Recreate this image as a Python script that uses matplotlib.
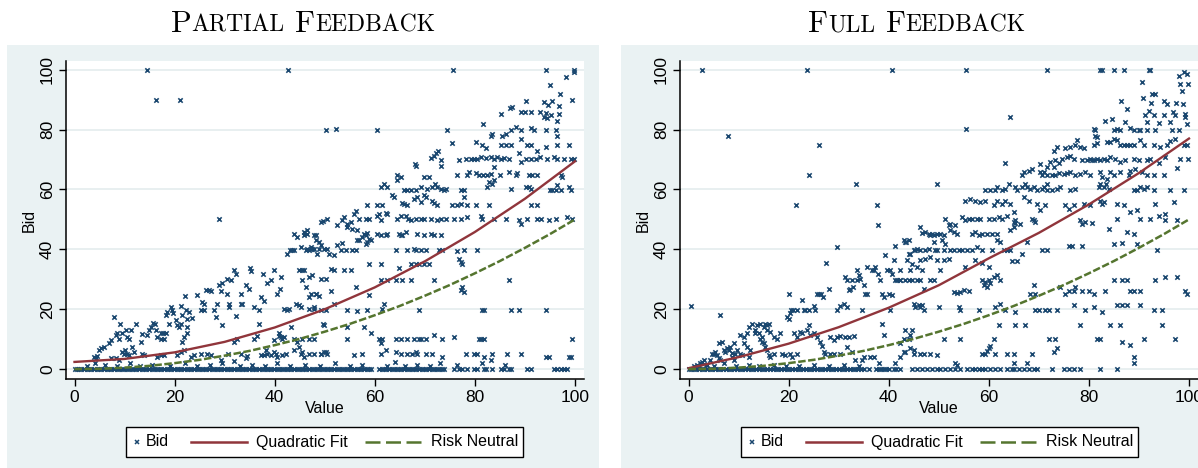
import numpy as np
import matplotlib
matplotlib.use("Agg")
import matplotlib.pyplot as plt
from matplotlib.patches import Rectangle
from matplotlib.lines import Line2D

# ---- data ----------------------------------------------------------------
# partial feedback: (value, bid) for the scattered bids
partial_pts = [
    (14.4, 100), (16.2, 90), (21, 90), (42.6, 100), (50.3, 80), (28.9, 50),
    (7.9, 17.4), (9, 15), (12.3, 15),
    (5.2, 6.9), (4.9, 6.3), (5.9, 7.4), (3.9, 4.1), (4.2, 3.6), (4.5, 4.3),
    (6.9, 8.8), (7.2, 9.7), (8.2, 11.3), (8.5, 11.9), (8.9, 10.2), (9.5, 12.1),
    (10.5, 10.8), (10.9, 10.2), (10.2, 13), (11.2, 13), (11.5, 7.4),
    (10, 6.3), (10.4, 5.2), (10.9, 4.7), (11.9, 5.8), (13.2, 9.1), (13.5, 11.7),
    (14.5, 11.3), (14.9, 13.2), (15.2, 14.1), (15.7, 15.4), (16, 15),
    (16.2, 13), (16.5, 10.8), (17.2, 9.9), (17.9, 9.9), (17.2, 12.1), (17.7, 11.9), (18.2, 11.9),
    (18.2, 18), (18.5, 19.1), (18.9, 15.2), (19.2, 20.8), (19.5, 19.7), (19.7, 18.6),
    (20.2, 16.3), (20.5, 14.7), (20.9, 13.9), (21.2, 15.2),
    (21.2, 21), (21.5, 18), (22.2, 19.7), (22, 24.3),
    (21.5, 9.1), (21.9, 10.8), (22.5, 11.9), (22.5, 16.9), (23.5, 17.1), (22.9, 19.1), (22.5, 13.9),
    (25.2, 19.9), (25.9, 19.9), (24.5, 24.7), (25.5, 22.4), (25.9, 21.9),
    (26.2, 26.3), (26.9, 26.3), (27.2, 26.1), (27.9, 19.9), (28.2, 17.4), (28.5, 21.9),
    (28.9, 28.2), (29.2, 26.1), (29.5, 28.8), (29.5, 14.9),
    (30.5, 25.2), (30.9, 20.8), (30.9, 21.9), (30.5, 30.2), (31.2, 29.9), (31.9, 33), (32.2, 31.9),
    (32.2, 17.6), (33.2, 25.2), (33.5, 21.9), (33.2, 21.9),
    (34.2, 28), (34.9, 26.9), (35, 33.8), (35.3, 32.7), (35.9, 20.8), (36.9, 19.9), (36.9, 15),
    (37.2, 24.1), (37.9, 22.8), (37.7, 31.9), (38.5, 28.6), (39.2, 29.7), (39.9, 33),
    (40.5, 25.2), (41.1, 26.9), (41.2, 30.8), (41.9, 20.2), (42.5, 19.9), (42.9, 20.2),
    (42.5, 38.6), (43.1, 39.9), (43.5, 39.9), (43.9, 39.9), (43.9, 45.2), (44.4, 44.1),
    (44.2, 21.9), (44.9, 21.3), (44.9, 33), (45.5, 29.7), (45.9, 33),
    (46.2, 39.7), (46.9, 39.7), (47.2, 40.8), (47.5, 40.2), (47.9, 40.2),
    (45.9, 45.8), (46.5, 46.3), (48.2, 44.7), (49.2, 49.1),
    (47.2, 25), (48.2, 25), (47.9, 20.8), (48.5, 38.6), (49.7, 15),
    (43.2, 14.1), (43.9, 10.2), (44.5, 9.1), (44.9, 7.4),
    (40.9, 11.9), (41.2, 10.8), (41.5, 10.2), (41.9, 10.8),
    (40.5, 4.1), (41.5, 4.7), (42.2, 5.2), (43.9, 6.3), (45.5, 5.8), (45.9, 4.1),
    (47.9, 5.2), (49.2, 5.2), (50.2, 5.8),
    (38.5, 5.2), (39.2, 4.7), (39.9, 5.8), (40.2, 5.2), (37.2, 4.7), (37.9, 4.7), (38.2, 6.3),
    (34.2, 3.6), (34.5, 4.3), (31.9, 2.8), (30.7, 5.2), (29.2, 3), (33.2, 5.2),
    (25.2, 5.2), (26.5, 5.2), (27.2, 4.7), (23.2, 4.1), (23.9, 4.7),
    (21.9, 6.3), (21.2, 5.8), (20.5, 4.7), (16.5, 4.1), (17.2, 4.7), (17.9, 4.7),
    (13.5, 5.2), (13.9, 4.7), (31.9, 9.1), (32.5, 10.2), (35.9, 10.2), (36.5, 11),
    (39.9, 9.7), (40.9, 11), (7.2, 3.6), (8.2, 3.6), (8.9, 3), (9.5, 5.8), (9.9, 5.2),
    # right half
    (75.7, 100), (94.3, 100), (99.9, 100), (99.9, 99.1), (98.3, 97.7), (95, 94.9),
    (97.1, 91.9), (99.5, 89.9), (90.3, 89.7), (93.9, 89.1), (95.4, 89.7), (96.9, 88), (94.7, 88.2),
    (87, 87.1), (87.5, 87.4), (85.2, 85.2), (89.2, 85.8), (90, 85.8), (91.2, 85.8),
    (93.1, 86), (94.3, 85.4), (95.2, 84.7), (96.9, 85.2), (93.9, 84.3), (94.5, 83.8), (96.5, 82.7),
    (81.7, 81.7), (74.5, 79.9), (52.2, 80.2), (60.5, 79.9),
    (87.2, 79.9), (88.2, 80.8), (89.2, 79.9), (91.2, 80.6), (91.9, 79.9), (94.2, 79.9), (96.2, 79.9),
    (96.5, 78), (83.2, 78), (83.5, 78.6), (85.5, 77.7), (86.2, 78.6),
    (80.2, 75.8), (75.5, 75.4), (81.5, 75), (82.2, 73.9), (85.2, 75), (86.2, 75), (87.2, 75),
    (89.2, 76.9), (90.5, 75), (91.2, 75), (92.5, 73), (94.2, 74.1), (96.5, 75), (98.9, 75),
    (72.7, 73), (72.2, 72.3), (71.9, 71.3), (71.2, 70.6), (73.2, 69.9),
    (76.9, 69.9), (78.2, 70.2), (79.2, 70.2), (79.9, 70.2), (80.5, 70.2),
    (81.2, 71), (82.2, 70.6), (83.2, 70.8), (83.9, 70.2), (84.5, 70.8), (85.2, 70.2), (85.9, 70.6), (86.9, 70.2),
    (88.9, 72.1), (89.2, 69.1), (90.2, 70.2), (91.2, 70.2), (92.2, 70.2), (93.1, 70.8), (94.5, 70.2),
    (95.9, 70.8), (96.5, 70.2), (97.9, 70.2), (99.2, 70.2), (99.9, 70.2),
    (68.2, 68), (68, 68.6), (73.2, 67.7), (83.9, 67.4),
    (76.5, 64.9), (78.5, 64.9), (78.9, 65.8), (80.2, 65.4), (80.9, 64.7), (81.7, 64.9), (82.5, 64.7), (83.2, 65.2),
    (85.1, 64.9), (86.9, 65.8), (88.2, 64.9), (88.5, 65.4), (90.9, 64.9), (91.5, 64.9), (92.5, 64.9),
    (97.2, 64.9), (97.5, 64.1), (65.2, 64.1), (64.5, 63), (64.4, 64.7), (70.9, 64.1), (69.9, 64.1),
    (72, 61.9), (72.5, 60.8), (73.2, 60.2), (73.9, 59.7), (74.2, 60.2),
    (61.9, 61.9), (62.5, 60.8), (61.2, 60.8), (65.9, 59.7), (66.5, 59.7), (67.2, 59.9), (68.2, 59.9), (69.2, 60.8),
    (70.5, 60.2), (71.5, 60.8), (77.2, 59.9), (77.9, 59.9), (77.9, 57.4),
    (82.5, 60.8), (83.5, 61.9), (83.9, 63), (82.9, 62.4),
    (87.2, 60.2), (90.2, 60.8), (91.2, 60.2), (90.9, 60.8),
    (95, 59.9), (95.5, 59.9), (96.5, 61.6), (96.2, 59.9), (97.2, 59.9), (98.9, 60.8), (99.2, 59.9),
    (58.5, 54.9), (60.5, 54.9), (61.5, 54.9), (63.9, 57.4), (63.5, 58),
    (65.5, 55.4), (65.9, 55.2), (66.5, 54.7), (67.9, 56.9), (68.5, 57.4), (69.2, 55.8),
    (69.9, 58), (70.2, 57.4), (71.5, 56.3), (71.9, 55.4), (72.5, 54.9),
    (75.5, 54.9), (76.5, 54.9), (77.2, 55.2), (78.5, 54.9), (80.2, 54.9), (82.9, 54.9),
    (91.2, 54.9), (92.5, 54.9),
    (55.9, 51.9), (56.2, 52.8), (53.9, 50.8), (54.5, 48.6), (55.2, 49.1),
    (56.9, 50.2), (58.2, 50), (58.9, 50), (60.5, 51.3), (60.9, 51.9), (61.2, 49.7), (62.2, 52.2), (62.5, 51.9),
    (64.5, 50.2), (65.2, 51.3), (66.2, 51.3), (66.7, 50), (67.2, 49.7),
    (68.2, 50.2), (69.2, 50), (69.9, 50), (71.2, 50), (72.5, 49.7), (73.2, 50), (74.2, 50),
    (75.9, 50), (77.2, 50), (78.5, 50.8), (81.2, 51.3), (81.5, 50), (83.9, 50), (86.2, 50),
    (88.9, 49.7), (89.2, 48.6), (90.5, 50), (92.5, 50), (93.2, 50), (94.9, 49.7), (96.2, 50), (98.5, 50.8), (99.5, 50),
    (49.7, 49.3), (50.5, 50.2), (52.5, 48), (53.5, 49.7), (54.5, 47.4),
    (55.5, 46.9), (56.5, 46.3), (57.5, 44.1), (57.9, 45.2), (58.2, 44.7),
    (58.5, 45.4), (58.9, 43.6), (59.2, 43), (60.5, 45.2), (61.2, 44.7), (62.2, 44.9), (62.5, 45.2),
    (64.9, 45.2), (65.2, 44.7), (65.5, 44.7), (66.2, 45.8), (68.5, 45.2), (69.9, 44.9),
    (71.2, 45.2), (71.9, 44.9), (73.2, 44.9), (56.5, 43.2), (56.9, 43),
    (46.5, 45.2), (45.9, 44.7), (47.9, 44.7), (48.2, 43), (48.9, 42.4), (49.2, 41.3), (49.9, 40.2), (50.5, 40.2),
    (45.2, 40.8), (46.5, 40.2), (47.2, 40.2), (48.9, 40.2),
    (52.5, 41.3), (53.5, 42.1), (53.2, 39.7), (54.2, 39.9), (55.5, 39.7), (56.2, 39.7),
    (51.9, 38), (50.9, 38.6), (58.2, 41.9), (58.5, 42.4),
    (64.2, 39.9), (66.5, 39.9), (67.9, 40.2), (68.2, 39.9), (69.2, 39.9), (70.2, 39.9),
    (72.9, 39.9), (73.5, 39.9), (76.5, 39.3), (76.9, 36.9), (77.9, 39.9), (77.2, 35.8), (77.5, 35.2), (80.5, 39.9),
    (45.5, 33), (46.9, 30.8), (47.5, 31.3), (49.2, 30.2), (50.2, 30.2), (51.2, 33.6), (51.9, 33),
    (53.9, 33), (55.2, 33), (58.9, 35), (61.2, 35), (64.9, 33.8),
    (67.2, 35), (68.2, 35), (68.9, 35), (69.9, 35), (70.9, 35),
    (61.2, 29.9), (62.5, 29.9), (64.2, 29.9), (65.5, 29.9), (67.2, 29.9), (71.9, 29.9), (86.9, 29.9),
    (77.5, 27.4), (77.9, 25.8), (77.2, 26.3), (46.2, 27.4), (46.9, 24.1), (48.2, 25), (48.9, 24.3),
    (51.2, 26.1), (56.2, 27.4), (58.9, 24.7),
    (45.2, 20.8), (46.9, 20.2), (47.9, 20.2), (49.2, 19.9), (50.2, 19.7), (51.9, 21.9),
    (54.5, 19.7), (56.5, 19.4), (58.5, 19.7), (61.5, 20.2), (61.9, 21.9), (68.9, 19.9),
    (81.5, 19.9), (81.9, 19.9), (87.2, 19.9), (88.9, 19.9), (94.2, 19.9),
    (49.9, 14.7), (54.5, 14.1), (57.9, 14.1), (59.2, 11.9),
    (45.5, 10.2), (46.9, 9.9), (47.9, 10.2), (54.5, 10),
    (60.9, 10), (61.5, 10), (61.2, 8.6), (64.2, 10), (65.2, 10), (66.5, 10), (67.9, 10), (68.9, 10), (69.2, 10), (70.2, 10),
    (71.9, 11.3), (73.5, 10), (75.9, 10.8), (80.9, 10), (81.2, 10), (81.9, 10), (99.5, 10),
    (45.2, 5), (46.9, 5), (49.2, 5), (49.9, 5.8), (50.5, 5),
    (55.9, 4.7), (57.5, 5), (61.2, 5), (62.2, 6.3), (64.2, 5.8), (65.2, 5), (66.5, 5), (67.5, 5),
    (68.2, 5.8), (68.5, 5), (70.2, 5), (71.5, 5), (73.5, 4.1),
    (78.2, 5), (79.9, 5), (80.5, 5), (81.9, 4.1), (83.5, 5), (86.5, 5), (89.2, 5),
    (94.2, 4.1), (94.9, 4.1), (99.2, 4.1), (98.9, 4.1), (83.2, 3),
]

# partial feedback: values whose bid is 0, and the thin band just above it
partial_zero = [
    0, 0.4, 0.9, 1.3, 1.8, 2.4, 2.9, 3.3, 3.8, 4.4, 4.9, 5.3, 5.9, 6.4, 6.8, 7.3, 7.9, 8.4,
    8.8, 9.4, 9.9, 10.5, 10.9, 11.4, 11.9, 12.3, 12.9, 13.4, 13.8, 14.3, 14.9, 15.4, 15.8,
    16.4, 16.9, 17.3, 17.9, 18.4, 18.8, 19.3, 19.9, 20.4, 20.9, 21.3, 21.8, 22.4, 22.9, 23.3,
    23.9, 24.4, 24.8, 25.4, 25.9, 26.3, 26.9, 27.4, 27.8, 28.4, 28.9, 29.3, 29.9, 30.4, 30.9,
    31.3, 31.9, 32.4, 32.8, 33.4, 33.9, 34.3, 34.8, 35.4, 35.9, 36.3, 36.9, 37.4, 37.9, 38.4,
    38.8, 39.3, 39.9, 40.4, 40.9, 41.4, 41.8, 42.4, 42.9, 43.3, 43.9, 44.4, 44.9, 45.4, 45.9,
    46.3, 46.9, 47.4, 47.8, 48.4, 48.9, 49.4, 49.9, 50.4, 50.9, 51.3, 51.9, 52.4, 52.8, 53.4,
    53.9, 54.4, 54.9, 55.3, 55.9, 56.4, 56.9, 57.3, 57.9, 58.4, 58.9, 59.3, 60.9, 61.4, 61.9,
    62.3, 62.9, 63.4, 63.9, 64.4, 64.9, 65.3, 65.9, 66.4, 66.9, 67.4, 67.9, 68.3, 68.9, 69.4,
    69.9, 70.3, 70.9, 71.4, 71.9, 72.4, 72.9, 73.4, 73.9, 75.9, 76.9, 77.5, 78.5, 79.9, 80.5,
    81.9, 82.2, 83.5, 85.2, 85.9, 86.9, 87.2, 90.5, 91.2, 95.9, 96.5, 97.2, 97.9, 98.5,
]
partial_low = [
    (2.5, 1), (4, 2), (6, 1.5), (8.5, 1), (11, 2), (13, 1), (15.5, 1.5), (19, 1), (22, 2),
    (24.5, 1), (27, 1.5), (29.5, 2), (33, 1), (35.5, 1.5), (38, 1), (40.5, 2), (43, 1),
    (46, 1.5), (49, 1), (52, 2), (55, 1), (57.5, 1.5), (62.5, 1), (64, 2.5), (66, 1),
    (68.5, 1.5), (71, 1), (73, 2), (76.5, 1.5), (81.5, 2), (86, 1.5),
]

# full feedback: (value, bid)
full_pts = [
    (2.7, 100), (23.7, 100), (40.7, 100), (7.8, 77.8), (26, 74.9), (24.1, 64.9), (33.5, 61.9),
    (21.5, 54.9), (37.7, 54.9), (37.9, 48), (0.5, 21), (6.2, 18), (29.6, 40.8), (27.5, 35.4),
    (12, 14.1), (12.7, 15.2), (13.3, 13), (13.7, 14.7), (14, 11.9), (14.3, 15), (14.7, 10.8),
    (15, 14.1), (15.3, 15), (15.7, 13), (16, 15), (16.3, 12.4),
    (20, 25), (20.5, 19.9), (20.9, 19.7), (21.7, 19.9), (22.7, 23), (23, 19.9), (23.3, 19.9),
    (24, 19.9), (25, 21), (25.3, 19.9), (26.5, 25), (26.9, 24.1), (26, 25), (25.7, 25.2), (28, 26.9),
    (29.7, 19.9), (30.3, 21), (31, 21.9), (31.7, 20.8), (31.3, 30.8), (31.7, 29.7), (32.7, 29.9),
    (33.7, 29.9), (32, 26.3), (32.3, 26.9), (32.9, 27.4), (33.7, 33.2), (34, 31.3), (34.3, 30.2),
    (35, 28), (35.3, 25), (35.7, 25), (34.7, 19.9), (35.7, 34.1), (36.7, 33), (37, 33), (37.3, 34.1),
    (37.9, 31.9), (38.3, 29.7), (38.7, 25.2), (39, 24.1), (39.3, 38), (39.7, 33.2), (40.3, 33),
    (40.7, 31.9), (41, 36.3), (41.3, 29.7), (41.7, 29.9), (42.3, 29.9), (40, 25), (40.7, 24.7),
    (40.3, 19.9), (41.3, 41), (43, 43), (43.3, 42.4), (44, 38.6), (44.3, 38.6), (45.3, 39.7), (45.7, 40.2),
    (38.7, 15.2), (39, 11.3), (21, 11.9), (21.7, 10.8), (22.3, 12.4), (22.7, 11.9), (23.7, 13),
    (24, 14.7), (24.3, 11.3), (25, 11.9), (25.7, 10.8), (26.3, 9.1), (26.7, 7.7), (27, 5.8), (27.3, 5.2),
    (28.3, 10.8), (29, 9.7), (29.7, 10.8), (30.3, 11), (31.3, 10.8), (32, 10.8), (33, 11),
    (28.3, 5), (29, 5), (30.3, 5.2), (31.7, 7.4), (32.7, 5.8), (33.3, 3), (34.7, 3), (35, 4.1),
    (36.3, 4.1), (37, 4.1), (41.3, 1.9), (44.3, 6.9), (44.7, 13), (45, 6.3), (42.3, 4.1), (43, 5.8),
    (18.7, 5.2), (19.3, 4.7), (20.3, 5), (20.7, 4.1), (21.7, 5), (17, 5.2), (16.3, 4.1), (16, 4.7),
    (1.7, 1.3), (2.3, 1.9), (2.7, 2.4), (3, 3), (3.7, 1.3), (4.3, 3), (4.7, 5.2), (5, 5.2),
    (5.3, 5.8), (5.7, 4.7), (6, 3.6), (6.3, 3), (7, 6.3), (7.3, 5.8), (7.7, 6.9), (8, 6.3),
    (8.3, 7.4), (8.7, 5.4), (9, 8.6), (9.3, 5.2), (9.7, 6.3), (10.3, 5.2), (10.7, 4.7), (11, 8.6),
    (11.7, 7.4), (12, 4.1), (12.3, 6.3), (10.3, 11.3), (11, 10.8), (11.7, 11.9), (8.7, 4.1), (9, 3),
    (15.7, 14.7), (13.3, 11.9), (14.3, 10.2), (14.7, 9.1), (15, 8.6), (15.3, 7.4), (15.7, 6.3),
    (19.7, 17.4), (20, 16.9), (20.3, 18.6), (17, 10.8), (17.7, 10.2), (18.3, 11.9), (6, 8.6), (6.7, 9.1),
    # right half
    (55.5, 100), (71.7, 100), (82.3, 100), (82.7, 100), (85, 100), (87.1, 100), (92, 100), (92.3, 100),
    (55.5, 80.2), (64.3, 84.1), (49.7, 61.7), (63.3, 68.9),
    (99.7, 98.6), (99, 99.1), (98, 98), (90.7, 95.8), (98.3, 95.2), (99.8, 95.2), (98.7, 93),
    (92.7, 91.9), (93.3, 91.9), (90.9, 90.6), (86.5, 89.7), (95.1, 89.4), (95.7, 88.6), (97.5, 88.8),
    (98.9, 88.6), (92.5, 88.8), (87.7, 86.9), (92, 86.3), (96.9, 85.8), (99.3, 85.2),
    (83.3, 83), (84.7, 83.6), (91.3, 85), (93, 84.7), (95, 85), (97.3, 84.7), (87.3, 82.4),
    (91.7, 82.4), (94, 82.1), (96.3, 82.4),
    (81, 80.2), (81.3, 79.9), (85, 79.9), (85.7, 80.2), (86.3, 79.9), (88.3, 80.6), (89, 79.9),
    (90, 79.9), (90.3, 79.9), (91.7, 79.9), (93.3, 79.9), (96.7, 79.9), (98, 79.9),
    (99.3, 84.1), (99.7, 81.9), (81.2, 78), (81.7, 77.4),
    (77.7, 76.6), (75.3, 73.8), (76.3, 74.3), (77.3, 75), (78.3, 74.1), (73, 73), (73.7, 74.3),
    (79, 73.8), (81, 74.7), (81.7, 75.4), (83.7, 75.8), (84.3, 75.8),
    (85, 76.9), (85.7, 76.6), (86.3, 75), (87, 75), (87.7, 75), (88.3, 75), (89, 75), (90.2, 76.6),
    (91, 75), (93, 75), (94.3, 74.1), (95.7, 75), (96.3, 76.3), (97.3, 76.9), (99, 75), (99.7, 74.7),
    (78.7, 69.9), (79.7, 69.7), (80.3, 70.2), (80.7, 70), (81, 70), (81.7, 70.2), (82.3, 70),
    (83, 70.2), (83.7, 69.7), (84.3, 70.8), (85.3, 70.2), (86.3, 69.1), (87.3, 70),
    (74.7, 70.2), (75.7, 70.8), (76.3, 71.3), (77, 70.2), (73.3, 70), (74, 68.8), (72.3, 69.1),
    (71.7, 67.4), (73, 67.4), (89, 70.2), (90, 70), (91.7, 69.7), (92.3, 70.2), (94, 68.8),
    (95.3, 70.8), (98.3, 70.2), (99.8, 70.2),
    (70.3, 68.6), (68.7, 66.9), (68, 66.3), (67, 65.8), (66.7, 64.7),
    (70.3, 65.8), (70.7, 64.7), (71, 65.8), (71.7, 64.9), (72.7, 64.7), (73.3, 64.7), (74, 65.4),
    (75, 65.2), (75.7, 65.4), (76.3, 65.8), (77.3, 64.7), (78.3, 65.2), (79.3, 65.8), (80.3, 64.7),
    (82.3, 65.8), (82.7, 64.1), (83.7, 63.6), (84.3, 65.8), (85, 64.9), (86.3, 65.8), (88, 64.9),
    (88.3, 66.1), (89.3, 66.9), (90.7, 65.8), (91.7, 64.9), (93, 64.9), (95, 64.9), (97.7, 67.1),
    (71.7, 61.9), (71, 60.8), (70.7, 60.2), (69.7, 59.7), (69, 60.8),
    (59.3, 59.9), (60.3, 59.9), (61.3, 59.9), (61.7, 60.8), (62.7, 59.9), (63.3, 60.2), (64, 61.9),
    (65.3, 60.8), (65.7, 59.9), (66.7, 60.8), (67.3, 61.9), (67.7, 60.8), (68.3, 60.2),
    (71.7, 59.7), (72.7, 59.9), (73.7, 60.2), (74.3, 60.8), (76.3, 59.9), (77.3, 60.2),
    (82, 60.8), (82.3, 61.9), (83, 60.8), (83.5, 61.9), (84, 60.2),
    (89, 59.9), (89.7, 59.9), (90.3, 60.8), (91, 60.2), (91.7, 60.8), (93, 59.9), (96.3, 59.9), (99, 59.9),
    (55.3, 56.3), (56.3, 56.9), (57.3, 56.1), (58.3, 55.8), (59.3, 56.3), (61, 54.7), (61.7, 56.3),
    (62.7, 55.2), (63.3, 56.3), (64.3, 55.2), (65, 52.4), (67, 57.4), (68, 56.3), (69.7, 55.2),
    (70.3, 53), (71.3, 54.7), (75.3, 54.7), (76, 53.6), (77, 54.7),
    (79, 55.2), (80.3, 54.9), (82.3, 56.3), (82.7, 55.2), (83, 55.8), (85.7, 55.2), (87, 54.7),
    (89.7, 53), (93.3, 55.2), (97, 55.8), (95.3, 51.9), (94, 51.1), (88.3, 52.4),
    (85.7, 50), (90.3, 50), (92.3, 50), (95.3, 49.7), (97.7, 49.7),
    (78.3, 49.7), (78.7, 48.6), (80.7, 48.8), (79.3, 49.1),
    (51.3, 50), (52.3, 48.6), (53.3, 48), (54.7, 50.8), (55.3, 49.7), (56, 50), (56.7, 50),
    (57.7, 50), (58.3, 50), (60, 50), (61, 50), (62, 50.8), (62.7, 50), (63.7, 51), (65, 49.1),
    (65.3, 49.7), (66.3, 48.6), (68.7, 50), (69, 49.7), (69.3, 49.1),
    (51, 44.9), (52, 48), (52.3, 46.6), (53, 45.8), (53.7, 45.2),
    (46.3, 47.4), (47.3, 45.8), (48, 45.2), (48.7, 45.2), (49.7, 45.2), (50.3, 45.2),
    (46.7, 45.4), (48.3, 44.7), (49, 44.9),
    (56.7, 45.2), (57.3, 45.8), (58, 44.7), (58.7, 45.2), (59.7, 45.2), (60.7, 45.2), (61.7, 45.2),
    (64.3, 46.3), (65, 47.4), (65.3, 48.8),
    (45, 39.7), (46.3, 39.9), (47.3, 39.9), (48, 40.2), (49.3, 39.9), (49.7, 39.9), (51, 39.7),
    (52.3, 39.9), (53, 39.9), (54, 39.9), (54.7, 39.9), (55.7, 39.9), (56.7, 39.9), (57.7, 40.8),
    (58.7, 39.9), (60.7, 39.9), (61.7, 43), (62.3, 42.4), (63, 39.9), (63.7, 39.9), (64.3, 39.9),
    (43.5, 42.4), (44, 43), (49, 42.4), (50.7, 43), (51.3, 41.9),
    (67.7, 42.4), (70.7, 39.9), (71.7, 39.9), (76, 41), (76.7, 41), (78.7, 41), (84, 46.9),
    (85, 41.9), (86.7, 42.1), (87.7, 45.8), (89, 45.2), (89.7, 41.9), (93.7, 39.9),
    (42.3, 33), (43.7, 36.3), (44.3, 33), (44.7, 35.2), (45.7, 34.1), (46.3, 36.3), (46.7, 33),
    (47.3, 36.9), (48.3, 37.4), (49.7, 36.3), (50.3, 33), (51, 36.3), (52, 36.9),
    (55.3, 34.1), (57.3, 36.3), (58.7, 35.4), (60, 34.1), (61.7, 31.3), (64.7, 36.1), (65.7, 36.1), (66.7, 38.6),
    (42.3, 29.9), (43.3, 29.9), (44, 29.9), (44.7, 29.9), (45.7, 29.9), (46.3, 29.9), (47, 26.9),
    (48.3, 29.9), (49, 29.9), (53, 25.8), (53.7, 25.4), (54.3, 25.8), (55, 26.3), (56, 26.1),
    (58.7, 29.9), (59.3, 29.1), (60, 29.9), (61, 30.6), (62.3, 29.9), (59, 28), (59.7, 27.4), (60.3, 28.6),
    (69, 28), (68.3, 25), (69.3, 25),
    (74.3, 27.4), (75.3, 25), (76, 26.1), (77, 26.1), (77.3, 27.4), (78.7, 26.1), (80, 26.1), (81, 25),
    (83.3, 26.1), (85, 29.9), (86.7, 29.9), (87.7, 29.9), (88.3, 26.1), (89, 26.1), (90.3, 26.1),
    (93.3, 29.9), (95.3, 30.8), (97.7, 30.8), (99.3, 26.1), (99.7, 25),
    (45, 21.9), (45.3, 20.8), (46, 21.3), (46.3, 20.8), (46.7, 21.3), (47, 19.9), (50, 20.8),
    (54, 20.8), (54.3, 19.9), (58, 19.9), (61.3, 20.8), (62.3, 21.9), (63.3, 19.9), (65.3, 19.1),
    (69.3, 19.9), (70, 19.9), (71.3, 19.9), (72, 19.9), (73.7, 19.9), (77, 21.3), (79.3, 19.9),
    (81, 20.8), (82.7, 19.1), (85.7, 21.3), (86.7, 21.3), (87.7, 21.3), (90.3, 21.3), (93, 19.9), (94.7, 19.9),
    (62, 14.9), (65.3, 14.9), (67.3, 14.9), (78.3, 14.9), (84.3, 14.9), (86.3, 14.9), (94.7, 14.9), (43.3, 13),
    (44.3, 11.3), (43, 9.9), (44, 10.2), (42.3, 8.8),
    (51, 10), (54.3, 10), (61, 10), (72, 10), (73.3, 10), (81.7, 10), (82.3, 10), (86.7, 9.1),
    (88.3, 8), (91, 10), (97.3, 10), (73, 5.8), (73.7, 6.9), (60, 6.9), (60.3, 7.7), (59.7, 6.1),
    (43.3, 5.8), (45, 5), (46.3, 5), (47, 5), (48.3, 5), (49.7, 4.7),
    (58.7, 5), (59.3, 5), (61.3, 5), (63.7, 5), (65, 5), (68.7, 5), (89, 4.1), (89, 2.1),
    (53.3, 2.1), (53.7, 1.3), (65, 2.1), (67.7, 2.1),
]

full_zero = [
    0, 0.5, 1, 1.5, 2, 2.6, 3.1, 3.6, 4.2, 4.7, 5.3, 5.8, 6.3, 6.9, 7.4, 8, 8.5, 9.1, 9.6,
    10.2, 10.7, 11.3, 11.8, 12.4, 12.9, 13.5, 14, 14.6, 15.1, 15.7, 16.3, 16.8, 17.4, 17.9,
    18.5, 19, 19.6, 20.1, 20.7, 21.2, 21.8, 22.3, 22.9, 23.4, 24, 24.5, 25.1, 25.6, 26.2,
    26.7, 27.3, 27.8, 28.4, 28.9, 29.5, 30, 30.6, 31.1, 31.7, 32.2, 32.8, 33.3, 33.9, 34.4,
    35, 36, 37.5, 38, 38.5, 39, 39.5, 40, 41, 41.5, 42.3, 44.7, 45.7, 46.7, 47.7, 48.7,
    49.7, 50.3, 51.3, 52.3, 53.3, 54.3, 55.7, 56.7, 57.3, 58, 58.7, 59.3, 60.3, 61.3, 62.3,
    63.7, 64.7, 65, 66, 67, 68, 69, 69.7, 72.7, 75, 76, 77, 78.3, 82.3, 85.7,
]
full_low = [
    (1, 1), (2, 0.8), (3.5, 1.5), (5, 1), (7, 2), (9.5, 1), (12, 1.5), (14, 1), (17, 1.5),
    (19.5, 1), (22, 1), (25, 1.5), (28, 1), (31, 1.5), (34, 1), (38, 2),
]

# fitted curves, read every 10 points of value
fit_value = [0, 10, 20, 30, 40, 50, 60, 70, 80, 90, 100]
partial_fit = [2.4, 3.4, 5.6, 9.1, 13.9, 20, 27.3, 36, 45.8, 56.9, 69.4]
full_fit = [0.3, 4, 8.5, 14, 20.5, 28, 37, 45.5, 55, 65.5, 77]
rn_value = [0, 5, 10, 15, 20, 25, 30, 35, 40, 45, 50, 55, 60, 65, 70, 75, 80, 85, 90, 95, 100]
risk_neutral = [0, 0.1, 0.5, 1.1, 2, 3.1, 4.5, 6.1, 8, 10.1, 12.5, 15.1, 18, 21.1, 24.5,
                28.1, 32, 36.1, 40.5, 45.1, 50]

titles = ["Partial Feedback", "Full Feedback"]
legend_labels = ["Bid", "Quadratic Fit", "Risk Neutral"]

# ---- style -----------------------------------------------------------------
NAVY = "#1a476f"
MAROON = "#90353b"
GREEN = "#55752f"
BG = "#eaf2f3"
GRID = "#e4ecee"

plt.rcParams["font.family"] = ["Liberation Sans", "DejaVu Sans"]

W, H = 1198, 468
fig = plt.figure(figsize=(W / 100, H / 100), dpi=100)
fig.patch.set_facecolor("white")


def px(x0, y0, x1, y1):
    # pixel box (top-left origin) -> figure fraction [l, b, w, h]
    return [x0 / W, 1 - y1 / H, (x1 - x0) / W, (y1 - y0) / H]


def fx(x):
    return x / W


def fy(y):
    return 1 - y / H


for bx in [(7, 45, 599, 468), (621, 45, 1198, 468)]:
    l, b, w, h = px(*bx)
    fig.patches.append(Rectangle((l, b), w, h, transform=fig.transFigure,
                                 facecolor=BG, edgecolor="none", zorder=-5))

panels = [
    (partial_pts, partial_zero, partial_low, partial_fit, px(66, 61, 584, 379), 325, 303),
    (full_pts, full_zero, full_low, full_fit, px(680, 61, 1198, 379), 940, 917),
]

renderer = fig.canvas.get_renderer()


def small_caps(x_px, y_px, text, big=22, small=17):
    pieces = []
    for i, word in enumerate(text.split()):
        if i:
            pieces.append((" ", big))
        pieces.append((word[0].upper(), big))
        pieces.append((word[1:].upper(), small))
    objs = []
    for s, size in pieces:
        t = fig.text(0, fy(y_px), s, fontsize=size, family="cmr10",
                     va="baseline", ha="left")
        objs.append(t)
    widths = [t.get_window_extent(renderer).width if s != " " else big * 0.33 * 100 / 72
              for t, (s, _) in zip(objs, pieces)]
    x = x_px - sum(widths) / 2
    for t, wd in zip(objs, widths):
        t.set_x(fx(x))
        x += wd


def stata_legend(cx, cy=442):
    # framed one-row key, laid out like the Stata one
    l, b, w, h = px(cx - 199, cy - 15, cx + 198, cy + 15)
    fig.patches.append(Rectangle((l, b), w, h, transform=fig.transFigure,
                                 facecolor="white", edgecolor="black", lw=1.0, zorder=5))
    tf = fig.transFigure
    fig.add_artist(Line2D([fx(cx - 188)], [fy(cy)], marker="x", ls="none", color=NAVY,
                          markersize=3, mew=1.1, transform=tf, zorder=6))
    fig.add_artist(Line2D([fx(cx - 134), fx(cx - 78)], [fy(cy)] * 2, color=MAROON,
                          lw=1.8, transform=tf, zorder=6))
    fig.add_artist(Line2D([fx(cx + 40), fx(cx + 97)], [fy(cy)] * 2, color=GREEN,
                          lw=1.8, dashes=(6, 2.2), transform=tf, zorder=6))
    for xoff, lab in zip([-179, -69, 106], legend_labels):
        fig.text(fx(cx + xoff), fy(cy), lab, fontsize=11.5, va="center", ha="left", zorder=6)


for k, (pts, zero, low, fit, rect, lcx, tcx) in enumerate(panels):
    ax = fig.add_axes(rect)
    ax.set_facecolor("white")
    pts = np.array(pts)
    low = np.array(low)
    val = np.concatenate([pts[:, 0], np.array(zero), low[:, 0]])
    bid = np.concatenate([pts[:, 1], np.zeros(len(zero)), low[:, 1]])

    ax.scatter(val, bid, marker="x", s=10, linewidths=1.15, color=NAVY, zorder=3)
    ax.plot(fit_value, fit, color=MAROON, lw=1.7, zorder=4)
    ax.plot(rn_value, risk_neutral, color=GREEN, lw=1.8, dashes=(3, 1), zorder=4)

    ax.set_xlim(-1.7, 101.8)
    ax.set_ylim(-3.3, 102.9)
    ax.set_xticks(range(0, 101, 20))
    ax.set_yticks(range(0, 101, 20))
    ax.grid(axis="y", color=GRID, lw=1.2, zorder=0)
    ax.set_axisbelow(True)
    for s in ("top", "right"):
        ax.spines[s].set_visible(False)
    for s in ("left", "bottom"):
        ax.spines[s].set_linewidth(1.1)
    ax.tick_params(direction="out", length=5, width=1, labelsize=12.5, pad=3)
    for lab in ax.get_yticklabels():
        lab.set_rotation(90)
        lab.set_va("center")
    ax.set_xlabel("Value", fontsize=11.5, labelpad=-3)
    ax.set_ylabel("Bid", fontsize=11.5, labelpad=2)

    stata_legend(lcx)
    small_caps(tcx, 32, titles[k])

fig.savefig("out.png", dpi=100)
